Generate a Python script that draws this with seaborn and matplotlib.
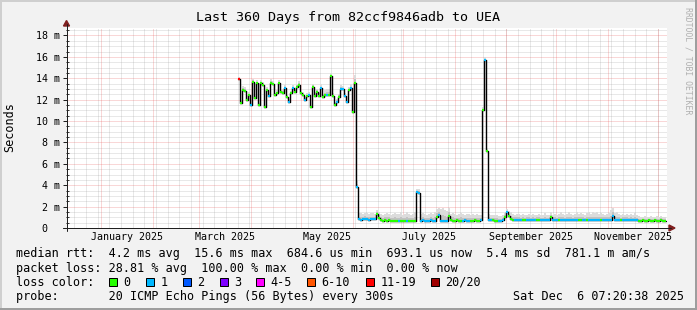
import numpy as np
import pandas as pd
import matplotlib
matplotlib.use("Agg")
import matplotlib.pyplot as plt
import seaborn as sns
from matplotlib.patches import Rectangle, Polygon
from matplotlib.lines import Line2D

# ---------------- data ----------------
range_start = pd.Timestamp("2024-12-11 07:20:38")
range_end = pd.Timestamp("2025-12-06 07:20:38")
series_start = pd.Timestamp("2025-03-23 21:00")
step_hours = 28.8

title = "Last 360 Days from 82ccf9846adb to UEA"
y_label = "Seconds"
y_ticks = [0, 2, 4, 6, 8, 10, 12, 14, 16, 18]
y_tick_labels = ["0  ", "2 m", "4 m", "6 m", "8 m", "10 m", "12 m", "14 m", "16 m", "18 m"]
x_label_months = ["2025-01", "2025-03", "2025-05", "2025-07", "2025-09", "2025-11"]
x_tick_labels = ["January 2025", "March 2025", "May 2025", "July 2025",
                 "September 2025", "November 2025"]

# median rtt in ms
median_high = [13.93, 11.65, 12.9, 12.85, 12.0, 12.43, 11.5, 13.67, 12.12, 13.52,
               11.5, 13.52, 13.36, 11.34, 12.9, 12.34, 13.52, 13.46, 12.43, 12.59,
               13.52, 12.74, 12.65, 13.05, 12.27, 11.8, 12.65, 13.05, 12.74, 13.2,
               13.36, 12.59, 12.43, 11.96, 12.34, 12.43, 11.28, 13.2, 12.34, 12.74,
               12.34, 13.05, 12.27, 12.43, 12.43, 12.43, 14.2, 12.34, 11.5, 11.8,
               12.27, 12.96, 12.96, 12.34, 11.8, 12.9, 13.05, 10.87, 13.58, 3.85]
median_low = [0.80, 0.78, 0.80, 0.82, 0.80, 0.78, 0.80, 0.80, 0.85, 1.30,
              0.95, 0.72, 0.70, 0.72, 0.70, 0.72, 0.70, 0.65, 0.63, 0.65,
              0.62, 0.65, 0.66, 0.63, 0.65, 0.62, 0.64, 0.65, 0.66, 3.35,
              3.30, 0.70, 0.72, 0.70, 0.68, 0.70, 0.72, 0.70, 0.70, 1.00,
              1.20, 0.65, 0.66, 0.64, 0.65, 1.15, 0.72, 0.70, 0.70, 0.72,
              0.70, 0.70, 0.70, 0.72, 0.70, 0.70, 0.70, 0.70, 0.72, 0.70,
              0.70, 0.75, 11.0, 15.7, 7.20, 0.75, 0.75, 0.72, 0.65, 0.62,
              0.62, 0.65, 0.75, 1.00, 1.45, 1.15, 0.85, 0.78, 0.76, 0.75,
              0.72, 0.75, 0.74, 0.75, 0.76, 0.75, 0.74, 0.72, 0.75, 0.76,
              0.75, 0.74, 0.75, 0.76, 0.75, 0.75, 1.05, 0.76, 0.75, 0.74,
              0.75, 0.76, 0.74, 0.75, 0.75, 0.76, 0.75, 0.74, 0.75, 0.76,
              0.75, 0.74, 0.75, 0.75, 0.76, 0.75, 0.74, 0.75, 0.76, 0.75,
              0.75, 0.74, 0.75, 0.76, 0.75, 0.74, 0.75, 1.10, 0.76, 0.75,
              0.75, 0.74, 0.75, 0.76, 0.75, 0.75, 0.74, 0.75, 0.76, 0.75,
              0.70, 0.70, 0.72, 0.70, 0.70, 0.71, 0.70, 0.70, 0.72, 0.70,
              0.70, 0.71, 0.70, 0.70]

# loss colour index (0 -> "0", 1 -> "1", ..., 6 -> "11-19", 7 -> "20/20")
loss_high = [6, 0, 0, 0, 0, 0, 1, 0, 0, 0,
             0, 0, 0, 0, 0, 1, 0, 0, 0, 0,
             0, 0, 0, 1, 0, 1, 0, 1, 0, 0,
             0, 0, 0, 1, 0, 1, 0, 0, 0, 0,
             0, 1, 0, 0, 1, 0, 0, 0, 0, 1,
             0, 1, 1, 1, 1, 0, 1, 0, 0, 1]
loss_low = [1, 1, 1, 1, 1, 1, 1, 1, 1, 0,
            0, 0, 0, 0, 0, 0, 0, 0, 0, 0,
            1, 0, 0, 0, 1, 0, 0, 0, 0, 1,
            1, 1, 1, 1, 1, 1, 1, 1, 1, 0,
            1, 1, 1, 1, 1, 0, 0, 0, 0, 0,
            0, 0, 1, 1, 1, 1, 0, 0, 0, 0,
            0, 1, 0, 1, 0, 1, 1, 0, 0, 0,
            1, 1, 1, 0, 1, 0, 0, 0, 1, 1,
            1, 1, 0, 0, 1, 1, 1, 1, 1, 0,
            0, 1, 1, 1, 1, 1, 0, 1, 1, 1,
            0, 1, 1, 1, 1, 1, 1, 1, 1, 1,
            0, 0, 1, 1, 0, 1, 1, 1, 1, 1,
            1, 0, 1, 1, 1, 1, 1, 1, 1, 1,
            1, 0, 1, 1, 1, 1, 1, 1, 1, 1,
            0, 0, 0, 0, 0, 0, 0, 0, 0, 0,
            0, 0, 0, 0]

# smoke height above the median, ms
smoke_high = [0.2, 0.3, 0.4, 0.3, 0.2, 0.3, 0.2, 0.3, 0.2, 0.3,
              0.2, 0.3, 0.3, 0.2, 0.3, 0.2, 0.4, 0.3, 0.2, 0.3,
              0.3, 0.2, 0.3, 0.3, 0.2, 0.3, 0.2, 0.3, 0.3, 0.3,
              0.4, 0.3, 0.3, 0.2, 0.3, 0.3, 0.2, 0.3, 0.2, 0.3,
              0.3, 0.4, 0.3, 0.5, 0.6, 0.6, 0.3, 0.3, 0.2, 0.3,
              0.3, 0.4, 0.3, 0.3, 0.2, 0.3, 0.4, 0.2, 0.7, 0.6]
smoke_low = [0.6, 0.6, 0.5, 0.6, 0.6, 0.5, 0.6, 0.6, 0.5, 0.4,
             0.5, 0.6, 0.5, 0.6, 0.7, 0.6, 0.5, 0.7, 0.8, 0.7,
             0.7, 0.8, 0.6, 0.7, 0.8, 0.7, 0.6, 0.7, 0.8, 0.3,
             0.3, 0.6, 0.7, 0.6, 0.5, 0.6, 0.7, 0.6, 0.8, 0.8,
             0.7, 1.1, 1.2, 1.0, 0.9, 0.7, 0.6, 0.7, 0.6, 0.5,
             0.6, 0.7, 0.6, 0.5, 0.6, 0.6, 0.5, 0.6, 0.5, 0.6,
             0.5, 0.5, 0.3, 0.3, 0.3, 0.6, 0.5, 0.5, 0.6, 0.6,
             0.5, 0.5, 0.5, 0.4, 0.3, 0.4, 0.6, 0.5, 0.5, 0.6,
             0.6, 0.5, 0.6, 0.5, 0.5, 0.6, 0.5, 0.6, 0.5, 0.5,
             0.6, 0.5, 0.5, 0.6, 0.5, 0.5, 0.4, 0.5, 0.6, 0.5,
             0.6, 0.7, 0.6, 0.5, 0.6, 0.7, 0.6, 0.5, 0.6, 0.7,
             0.6, 0.7, 0.6, 0.5, 0.6, 0.7, 0.6, 0.7, 0.6, 0.7,
             0.6, 0.7, 0.6, 0.5, 0.6, 0.7, 0.9, 0.8, 0.6, 0.7,
             0.6, 0.5, 0.6, 0.5, 0.6, 0.5, 0.6, 0.5, 0.6, 0.5,
             0.4, 0.3, 0.3, 0.4, 0.3, 0.3, 0.4, 0.3, 0.3, 0.4,
             0.3, 0.4, 0.3, 0.3]

loss_labels = ["0", "1", "2", "3", "4-5", "6-10", "11-19", "20/20"]
loss_colors = ["#26ff00", "#00b8ff", "#0059ff", "#7e00ff", "#ff00ff",
               "#ff5500", "#ff0000", "#a00000"]

legend_rtt = "median rtt:  4.2 ms avg  15.6 ms max  684.6 us min  693.1 us now  5.4 ms sd  781.1 m am/s"
legend_loss = "packet loss: 28.81 % avg  100.00 % max  0.00 % min  0.00 % now"
legend_color = "loss color:"
legend_probe = "probe:       20 ICMP Echo Pings (56 Bytes) every 300s"
legend_date = "Sat Dec  6 07:20:38 2025"

# ---------------- figure ----------------
W, H = 697, 310
sns.set_theme(style="white")
plt.rcParams["font.family"] = ["DejaVu Sans Mono", "DejaVu Sans"]

BACK = "#f2f2f2"
SHADEA = "#cfcfcf"
SHADEB = "#9e9e9e"
GRID = (0.56, 0.56, 0.56, 0.40)
MGRID = (0.90, 0.31, 0.31, 0.45)
AXIS = (0.12, 0.12, 0.12)
ARROW = (0.5, 0.12, 0.12)
PX = 72.0 / 100.0  # one pixel in points

fig = plt.figure(figsize=(W / 100, H / 100), dpi=100, facecolor=BACK)

def fx(x):
    return x / W

def fy(y):
    return 1 - y / H

ax_l, ax_r, ax_t, ax_b = 66.5, 667, 28, 228
ax = fig.add_axes([fx(ax_l), fy(ax_b), (ax_r - ax_l) / W, (ax_b - ax_t) / H])
ax.set_facecolor("white")
total_days = (range_end - range_start) / pd.Timedelta(days=1)
ax.set_xlim(0, total_days)
ax.set_ylim(0, 18.7)

def day(ts):
    return (pd.Timestamp(ts) - range_start) / pd.Timedelta(days=1)

# grid
for v in np.arange(0.5, 18.7, 0.5):
    if abs(v / 2 - round(v / 2)) > 1e-6:
        ax.axhline(v, color=GRID, lw=PX, ls=(0, (1, 1)), zorder=1)
for d in pd.date_range("2024-12-16", range_end, freq="W-MON"):
    ax.axvline(day(d), color=GRID, lw=PX, ls=(0, (1, 1)), zorder=1)
for v in y_ticks[1:]:
    ax.axhline(v, color=MGRID, lw=PX, ls=(0, (1, 1)), zorder=2)
month_starts = pd.date_range("2025-01-01", "2025-12-01", freq="MS")
for d in month_starts:
    ax.axvline(day(d), color=MGRID, lw=PX, ls=(0, (1, 1)), zorder=2)

# series
median = np.array(median_high + median_low)
loss = np.array(loss_high + loss_low)
smoke = np.array(smoke_high + smoke_low)
step_days = step_hours / 24.0
t0 = day(series_start)
t = t0 + step_days * np.arange(len(median))
t_edges = np.append(t, t[-1] + step_days)
med_ext = np.append(median, median[-1])
smoke_ext = np.append(smoke, smoke[-1])

ax.fill_between(t_edges, med_ext, med_ext + smoke_ext, step="post",
                color="#dcdcdc", lw=0, zorder=3)
ax.fill_between(t_edges, med_ext, med_ext + smoke_ext * 0.45, step="post",
                color="#c2c2c2", lw=0, zorder=3)

df = pd.DataFrame({"t": t_edges, "rtt": med_ext})
sns.lineplot(data=df, x="t", y="rtt", drawstyle="steps-post", color="black",
             linewidth=1.4 * PX, estimator=None, sort=False, ax=ax, zorder=4)
ax.hlines(median, t, t + step_days, colors=[loss_colors[i] for i in loss],
          linewidth=2.2 * PX, zorder=5)

# axes styling
for s in ["top", "right", "left", "bottom"]:
    ax.spines[s].set_visible(False)
ax.set_xlabel("")
ax.set_ylabel("")
ax.set_yticks(y_ticks)
ax.set_yticklabels(y_tick_labels, fontsize=7.2, color="black")
ax.set_yticks(np.arange(0.5, 18.6, 0.5), minor=True)
ax.tick_params(axis="y", which="major", direction="out", length=4 * PX,
               width=PX, color=AXIS, pad=2.5 * PX, left=True)
ax.tick_params(axis="y", which="minor", direction="inout", length=3 * PX,
               width=PX, color=AXIS, left=True)
label_pos = []
for m in x_label_months:
    a = pd.Timestamp(m + "-01")
    b = a + pd.offsets.MonthBegin(1)
    label_pos.append((day(a) + day(b)) / 2)
ax.set_xticks(label_pos)
ax.set_xticklabels(x_tick_labels, fontsize=7.2, color="black")
ax.tick_params(axis="x", which="major", length=0, pad=4.5 * PX, bottom=True)

# axis lines with arrows
fig.add_artist(Line2D([fx(ax_l), fx(ax_l)], [fy(231), fy(24)], color=AXIS, lw=PX))
fig.add_artist(Line2D([fx(63), fx(671)], [fy(ax_b), fy(ax_b)], color=AXIS, lw=PX))
fig.add_artist(Polygon([[fx(63.5), fy(26)], [fx(69.5), fy(26)], [fx(66.5), fy(20.5)]],
                       closed=True, color=ARROW, transform=fig.transFigure))
fig.add_artist(Polygon([[fx(669), fy(225)], [fx(669), fy(231)], [fx(675), fy(228)]],
                       closed=True, color=ARROW, transform=fig.transFigure))

# texts
def T(x, y, s, **kw):
    fig.text(fx(x), fy(y), s, **kw)

T(347.5, 18, title, ha="center", va="center", fontsize=9.6, color="black")
T(10, 127, y_label, rotation=90, ha="center", va="center", fontsize=8.5, color="black")
T(688, 61, "RRDTOOL / TOBI OETIKER", rotation=270, ha="center", va="center",
  fontsize=5.9, color="#b0b0b0")

leg_fs = 8.5
T(16, 257.5, legend_rtt, ha="left", va="baseline", fontsize=leg_fs, color="black")
T(16, 271.7, legend_loss, ha="left", va="baseline", fontsize=leg_fs, color="black")
T(16, 285.9, legend_color, ha="left", va="baseline", fontsize=leg_fs, color="black")
T(16, 300.1, legend_probe, ha="left", va="baseline", fontsize=leg_fs, color="black")
T(513, 300.1, legend_date, ha="left", va="baseline", fontsize=leg_fs, color="black")

box_x = [109, 146, 183, 219.5, 256, 307, 366, 431]
for bx, lab, col in zip(box_x, loss_labels, loss_colors):
    fig.add_artist(Rectangle((fx(bx), fy(286)), 8 / W, 8 / H, facecolor=col,
                             edgecolor="black", lw=PX, transform=fig.transFigure))
    T(bx + 14.5, 285.9, lab, ha="left", va="baseline", fontsize=leg_fs, color="black")

# frame shading
fig.add_artist(Rectangle((0, 1 - 2 / H), 1, 2 / H, color=SHADEA, lw=0, transform=fig.transFigure))
fig.add_artist(Rectangle((0, 0), 2 / W, 1, color=SHADEA, lw=0, transform=fig.transFigure))
fig.add_artist(Rectangle((0, 0), 1, 2 / H, color=SHADEB, lw=0, transform=fig.transFigure))
fig.add_artist(Rectangle((1 - 2 / W, 0), 2 / W, 1, color=SHADEB, lw=0, transform=fig.transFigure))

fig.savefig("out.png", dpi=100, facecolor=BACK)
